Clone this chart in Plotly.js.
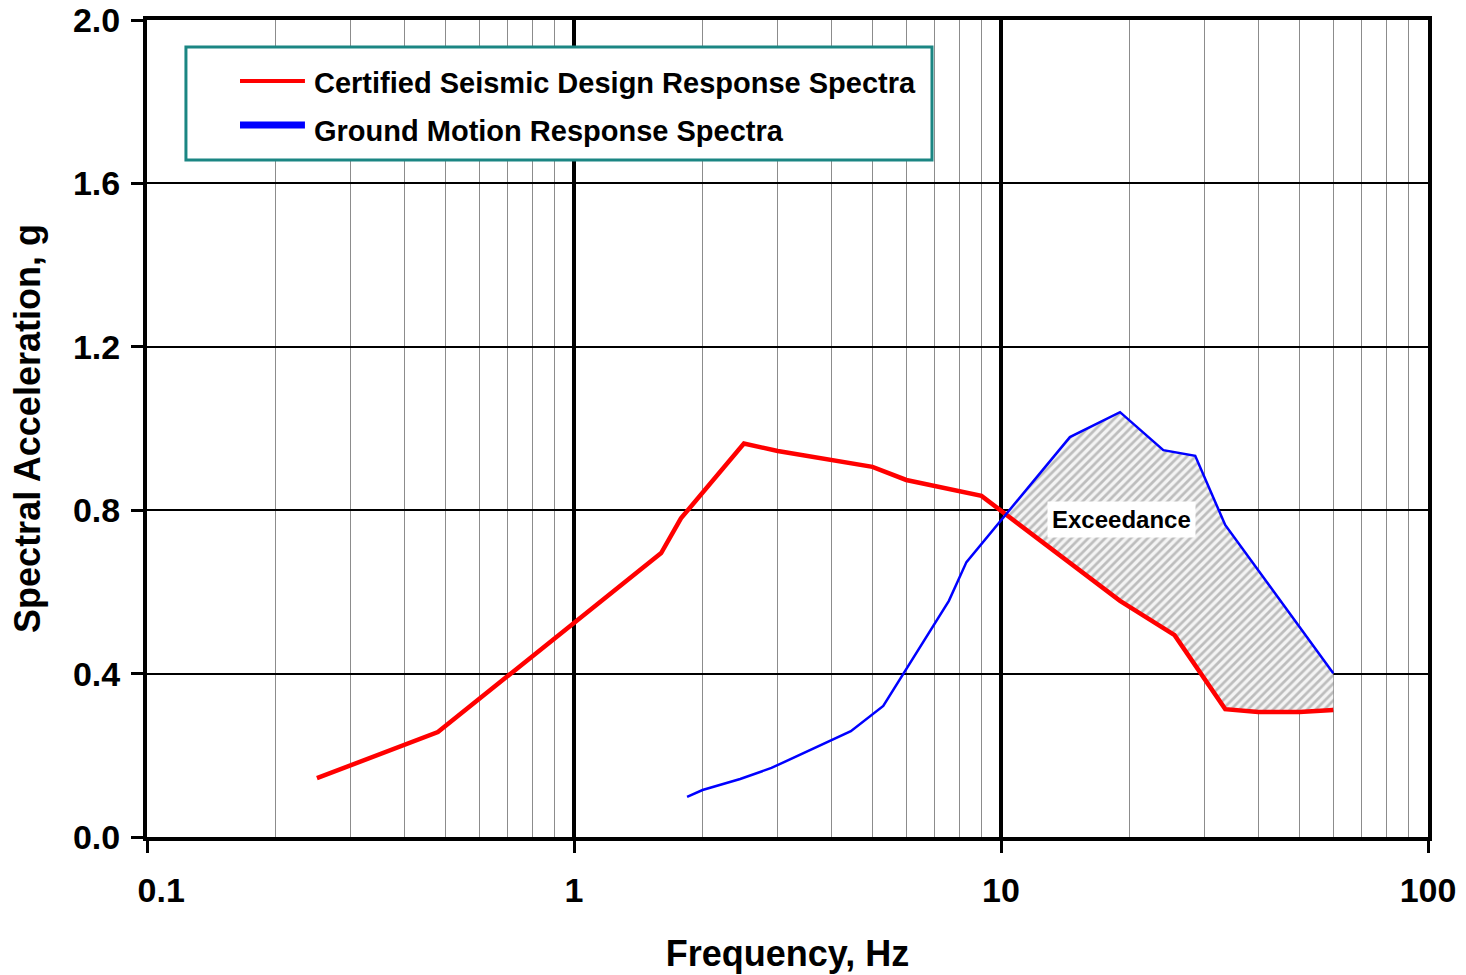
<!DOCTYPE html>
<html>
<head>
<meta charset="utf-8">
<script src="https://cdn.plot.ly/plotly-3.0.1.min.js"></script>
<style>
  html, body { margin: 0; padding: 0; background: #ffffff; }
  #chart { width: 1466px; height: 975px; }
</style>
</head>
<body>
<div id="chart"></div>
<script>
// ---- Data ----
const redName = "Certified Seismic Design Response Spectra";
const redFreq = [0.25, 0.48, 1.6, 1.78, 2.5, 3.0, 5.0, 6.0, 9.0, 19, 25.5, 33.5, 40, 50, 60];
const redSa   = [0.144, 0.257, 0.695, 0.78, 0.963, 0.945, 0.906, 0.874, 0.835, 0.578, 0.494, 0.313, 0.306, 0.306, 0.311];

const blueName = "Ground Motion Response Spectra";
const blueFreq = [1.84, 2.0, 2.45, 2.9, 4.45, 5.3, 7.55, 8.3, 14.5, 19, 24, 28.5, 33.5, 60];
const blueSa   = [0.098, 0.115, 0.142, 0.169, 0.259, 0.321, 0.578, 0.673, 0.979, 1.040, 0.947, 0.933, 0.764, 0.401];

const xTickVals = [0.1, 1, 10, 100];
const xTickText = ["\u00a0\u00a0\u00a00.1", "1", "10", "100"];
const yTickVals = [0, 0.4, 0.8, 1.2, 1.6, 2.0];
const yTickText = ["0.0", "0.4", "0.8", "1.2", "1.6", "2.0"];
const exceedLabel = "Exceedance";
const exceedLabelPos = {freq: 19.1, sa: 0.777};

// ---- Crossing point of the two curves (log-frequency space) ----
function findCrossing() {
  const lx = v => Math.log10(v);
  for (let i = 0; i < blueFreq.length - 1; i++) {
    for (let j = 0; j < redFreq.length - 1; j++) {
      const p1 = [lx(blueFreq[i]), blueSa[i]], p2 = [lx(blueFreq[i+1]), blueSa[i+1]];
      const q1 = [lx(redFreq[j]), redSa[j]], q2 = [lx(redFreq[j+1]), redSa[j+1]];
      const d = (p2[0]-p1[0])*(q2[1]-q1[1]) - (p2[1]-p1[1])*(q2[0]-q1[0]);
      if (Math.abs(d) < 1e-12) continue;
      const t = ((q1[0]-p1[0])*(q2[1]-q1[1]) - (q1[1]-p1[1])*(q2[0]-q1[0])) / d;
      const u = ((q1[0]-p1[0])*(p2[1]-p1[1]) - (q1[1]-p1[1])*(p2[0]-p1[0])) / d;
      if (t >= 0 && t <= 1 && u >= 0 && u <= 1) {
        return {f: Math.pow(10, p1[0] + t*(p2[0]-p1[0])), s: p1[1] + t*(p2[1]-p1[1])};
      }
    }
  }
  return null;
}
const cross = findCrossing();
const fillX = [cross.f], fillY = [cross.s];
blueFreq.forEach((f, i) => { if (f > cross.f) { fillX.push(f); fillY.push(blueSa[i]); } });
for (let j = redFreq.length - 1; j >= 0; j--) {
  if (redFreq[j] > cross.f) { fillX.push(redFreq[j]); fillY.push(redSa[j]); }
}

const FONT = '"Liberation Sans", Arial, sans-serif';

const traces = [
  {
    x: fillX, y: fillY, type: 'scatter', mode: 'lines',
    fill: 'toself', line: {width: 0, color: 'rgba(0,0,0,0)'},
    fillcolor: '#eeeeee',
    fillpattern: {shape: '/', fgcolor: '#bdbdbd', bgcolor: '#f4f4f4', size: 6, solidity: 0.45},
    showlegend: false, hoverinfo: 'skip'
  },
  {
    x: redFreq, y: redSa, type: 'scatter', mode: 'lines', name: redName,
    line: {color: '#ff0000', width: 4.5}, showlegend: false
  },
  {
    x: blueFreq, y: blueSa, type: 'scatter', mode: 'lines', name: blueName,
    line: {color: '#0000ff', width: 2.5}, showlegend: false
  }
];

// Legend (drawn as box, line samples and labels in paper coordinates)
const legendBox = {x0: 0.0304, x1: 0.6128, y0: 0.8286, y1: 0.967};
const shapes = [
  {type: 'rect', xref: 'paper', yref: 'paper', x0: legendBox.x0, x1: legendBox.x1, y0: legendBox.y0, y1: legendBox.y1,
   line: {color: '#1b8683', width: 3}, fillcolor: '#ffffff', layer: 'above'},
  {type: 'line', xref: 'paper', yref: 'paper', x0: 0.0726, x1: 0.1233, y0: 0.9253, y1: 0.9253,
   line: {color: '#ff0000', width: 4}, layer: 'above'},
  {type: 'line', xref: 'paper', yref: 'paper', x0: 0.0726, x1: 0.1233, y0: 0.8715, y1: 0.8715,
   line: {color: '#0000ff', width: 7}, layer: 'above'}
];

const annotations = [
  {xref: 'paper', yref: 'paper', x: 0.1288, y: 0.9229, xanchor: 'left', yanchor: 'middle', showarrow: false,
   text: redName, font: {family: FONT, size: 29, color: '#000', weight: 'bold'}},
  {xref: 'paper', yref: 'paper', x: 0.1288, y: 0.8641, xanchor: 'left', yanchor: 'middle', showarrow: false,
   text: blueName, font: {family: FONT, size: 29, color: '#000', weight: 'bold'}},
  {xref: 'x', yref: 'y', x: Math.log10(exceedLabelPos.freq), y: exceedLabelPos.sa, showarrow: false,
   text: exceedLabel, bgcolor: '#ffffff', borderpad: 4,
   font: {family: FONT, size: 24, color: '#000', weight: 'bold'}}
];

const layout = {
  width: 1466, height: 975,
  margin: {l: 147, r: 38, t: 20, b: 138, pad: 0},
  paper_bgcolor: '#ffffff', plot_bgcolor: '#ffffff',
  showlegend: false,
  font: {family: FONT, color: '#000'},
  xaxis: {
    type: 'log', range: [-1, 2],
    tickvals: xTickVals, ticktext: xTickText,
    ticks: 'outside', ticklen: 12, tickwidth: 3, tickcolor: '#000',
    showline: true, linecolor: '#000', linewidth: 4, mirror: true,
    showgrid: true, gridcolor: '#000', gridwidth: 3.5,
    zeroline: false,
    tickfont: {family: FONT, size: 34, color: '#000', weight: 'bold'},
    ticklabelstandoff: 8,
    minor: {dtick: 'D1', showgrid: true, gridcolor: '#8c8c8c', gridwidth: 1, ticks: ''},
    title: {text: 'Frequency, Hz', font: {family: FONT, size: 36, color: '#000', weight: 'bold'}, standoff: 34}
  },
  yaxis: {
    range: [0, 2],
    tickvals: yTickVals, ticktext: yTickText,
    ticks: 'outside', ticklen: 12, tickwidth: 3, tickcolor: '#000',
    showline: true, linecolor: '#000', linewidth: 4, mirror: true,
    showgrid: true, gridcolor: '#000', gridwidth: 2,
    zeroline: false,
    tickfont: {family: FONT, size: 34, color: '#000', weight: 'bold'},
    ticklabelstandoff: 4,
    title: {text: 'Spectral Acceleration, g', font: {family: FONT, size: 36, color: '#000', weight: 'bold'}, standoff: 22}
  },
  shapes: shapes,
  annotations: annotations
};

Plotly.newPlot('chart', traces, layout, {displayModeBar: false, staticPlot: true});
</script>
</body>
</html>
